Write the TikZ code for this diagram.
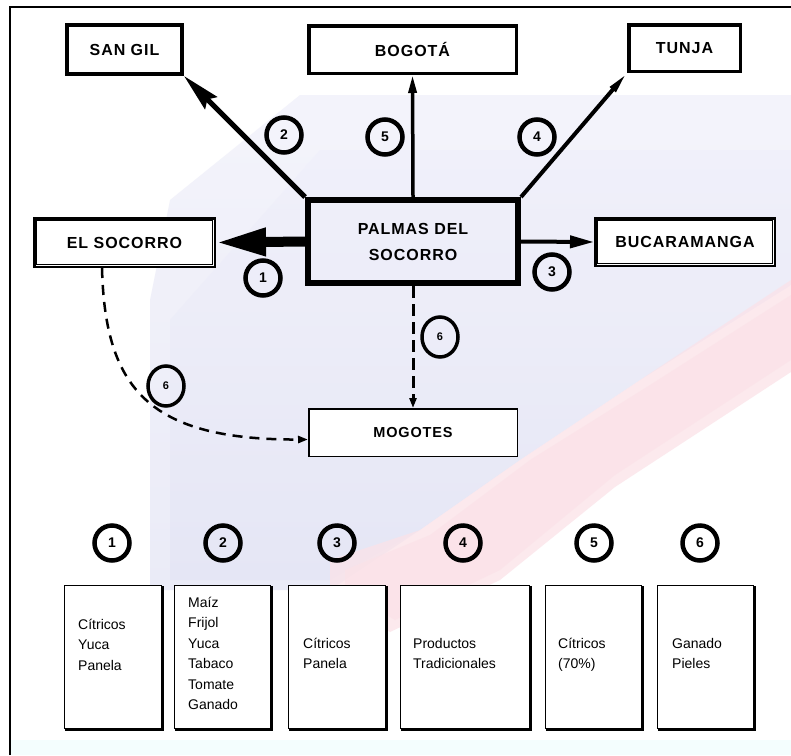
\documentclass[tikz,border=0pt]{standalone}
\usepackage{fontspec}
\setmainfont{Liberation Sans}
\newfontfamily\lblfont[LetterSpace=6]{Liberation Sans}
\usetikzlibrary{arrows.meta,shapes.geometric}
\definecolor{lav}{HTML}{E4E5F5}
\definecolor{lavl}{HTML}{F0F0FA}
\definecolor{pinkb}{HTML}{FBE2E8}
\definecolor{cyanb}{HTML}{F4FEFE}
\tikzset{
  place/.style={draw=black, fill=white, inner sep=0pt, align=center,
    font=\lblfont\bfseries\fontsize{16}{26}\selectfont},
  numc/.style={circle, draw=black, line width=4.5pt, minimum size=35pt, inner sep=0pt,
    font=\bfseries\fontsize{14}{14}\selectfont},
  nume/.style={ellipse, draw=black, line width=3.5pt, minimum width=36pt, minimum height=40pt, inner sep=0pt,
    font=\bfseries\fontsize{11}{11}\selectfont},
  prodbox/.style={draw=black, line width=1pt, fill=white, minimum height=143pt, inner sep=0pt},
  prodtext/.style={anchor=base west, inner sep=0pt, align=left,
    font=\fontsize{14}{20.5}\selectfont},
  innerline/.style={line width=0.9pt},
  dashline/.style={line width=3pt, dash pattern=on 12pt off 6pt, -{Triangle[length=10pt,width=7pt]}},
  dashcurve/.style={line width=2.5pt, dash pattern=on 10pt off 7pt, -{Triangle[length=10pt,width=7pt]}},
}
\begin{document}
\begin{tikzpicture}[x=1pt,y=-1pt]
\useasboundingbox (0,0) rectangle (791,755);
% background
\fill[white] (0,0) rectangle (791,755);
\shade[top color=lavl, bottom color=lav, opacity=0.75] (300,95) -- (791,95) -- (791,285) -- (640,380) -- (520,460) -- (420,530) -- (330,590) -- (150,590) -- (150,300) -- (170,200) -- cycle;
\shade[top color=lavl, bottom color=lav, opacity=0.75] (320,150) -- (791,150) -- (791,285) -- (640,380) -- (520,460) -- (420,530) -- (330,580) -- (170,580) -- (170,320) -- cycle;
\fill[pinkb, opacity=0.75] (791,280) -- (791,372) -- (615,487) -- (500,580) -- (390,632) -- (330,600) -- (330,560) -- (420,530) -- (520,460) -- (640,380) -- cycle;
\fill[pinkb, opacity=0.75] (791,295) -- (791,360) -- (615,475) -- (500,570) -- (395,620) -- (345,590) -- (345,570) -- (430,535) -- (530,460) -- (650,385) -- cycle;
\fill[cyanb] (10,740) rectangle (791,755);
\draw[line width=1.8pt] (10,755) -- (10,7) -- (791,7);

% places
\node[place, line width=3.5pt, minimum width=115.5pt, minimum height=49.5pt] (sangil) at (124.5,49.5) {SAN GIL};
\draw[innerline] ([shift={(3.8pt,-3.8pt)}]sangil.north west) rectangle ([shift={(-3.8pt,3.8pt)}]sangil.south east);
\node[place, line width=3.5pt, minimum width=207.5pt, minimum height=47.5pt] (bogota) at (412.5,49.5) {BOGOTÁ};
\node[place, line width=3.5pt, minimum width=111.5pt, minimum height=46.5pt] (tunja) at (684.5,48) {TUNJA};
\node[place, line width=2.5pt, minimum width=180.5pt, minimum height=48.5pt] (elsoc) at (124.5,242.5) {EL SOCORRO};
\draw[innerline] ([shift={(3.3pt,-3.3pt)}]elsoc.north west) rectangle ([shift={(-3.3pt,3.3pt)}]elsoc.south east);
\node[place, line width=2.5pt, minimum width=179.5pt, minimum height=47.5pt] (buc) at (685,242) {BUCARAMANGA};
\draw[innerline] ([shift={(3.3pt,-3.3pt)}]buc.north west) rectangle ([shift={(-3.3pt,3.3pt)}]buc.south east);
\node[place, fill=none, line width=6pt, minimum width=210pt, minimum height=83pt] (palmas) at (413,241.5) {PALMAS DEL\\SOCORRO};
\draw[innerline] ([shift={(4.6pt,-4.6pt)}]palmas.north west) rectangle ([shift={(-4.6pt,4.6pt)}]palmas.south east);
\node[place, line width=1.5pt, minimum width=208.5pt, minimum height=47.5pt,
  font=\lblfont\bfseries\fontsize{14.5}{18}\selectfont] (mog) at (413,432.5) {MOGOTES};

% connectors
\draw[line width=10pt, -{Triangle[length=50pt,width=26pt]}] (palmas.west) -- (elsoc.east);
\draw[line width=5pt, -{Stealth[length=38pt,width=17pt,inset=5pt]}] (palmas.north west) -- (sangil.south east);
\draw[line width=3.5pt, -{Triangle[length=18pt,width=8pt]}] (palmas.north) -- (bogota.south);
\draw[line width=4pt, -{Triangle[length=22pt,width=7pt]}] (palmas.north east) -- (tunja.south west);
\draw[line width=4pt, -{Triangle[length=24pt,width=12pt]}] (palmas.east) -- (buc.west);
\draw[dashline] (palmas.south) -- (mog.north);
\draw[dashcurve] ([xshift=69pt]elsoc.south west) .. controls (105,390) and (150,440) .. ([yshift=-7pt]mog.west);

% route numbers
\node[numc] (r2) at (284,135) {2};
\node[numc] (r5) at (385,137) {5};
\node[numc] (r4) at (537,137) {4};
\node[numc] (r1) at (263,278) {1};
\node[numc] (r3) at (552,272) {3};
\node[nume] (r6a) at (440,337) {6};
\node[nume] (r6b) at (166,386) {6};

% legend numbers
\node[numc] (n1) at (112,543) {1};
\node[numc] (n2) at (223,543) {2};
\node[numc] (n3) at (337,543) {3};
\node[numc] (n4) at (463,543) {4};
\node[numc] (n5) at (594,543) {5};
\node[numc] (n6) at (700,543) {6};

% legend boxes
\node[prodbox, minimum width=97pt] (b1) at (113,657) {};
\node[prodbox, minimum width=96pt] (b2) at (222.5,657) {};
\node[prodbox, minimum width=97pt] (b3) at (337,657) {};
\node[prodbox, minimum width=129pt] (b4) at (465,657) {};
\node[prodbox, minimum width=96pt] (b5) at (593.5,657) {};
\node[prodbox, minimum width=96pt] (b6) at (705.5,657) {};
\foreach \b in {b1,b2,b3,b4,b5,b6}{
  \draw[line width=1.3pt] ([shift={(1pt,-1pt)}]\b.north east) -- ([shift={(1pt,-1pt)}]\b.south east) -- ([shift={(1pt,-1pt)}]\b.south west);
}
\node[prodtext] (t1) at (78,670) {Cítricos\\Yuca\\Panela};
\node[prodtext] (t2) at (188,709.5) {Maíz\\Frijol\\Yuca\\Tabaco\\Tomate\\Ganado};
\node[prodtext] (t3) at (303,668.5) {Cítricos\\Panela};
\node[prodtext] (t4) at (413,668.5) {Productos\\Tradicionales};
\node[prodtext] (t5) at (558,668.5) {Cítricos\\(70\%)};
\node[prodtext] (t6) at (672,668.5) {Ganado\\Pieles};
\end{tikzpicture}
\end{document}
